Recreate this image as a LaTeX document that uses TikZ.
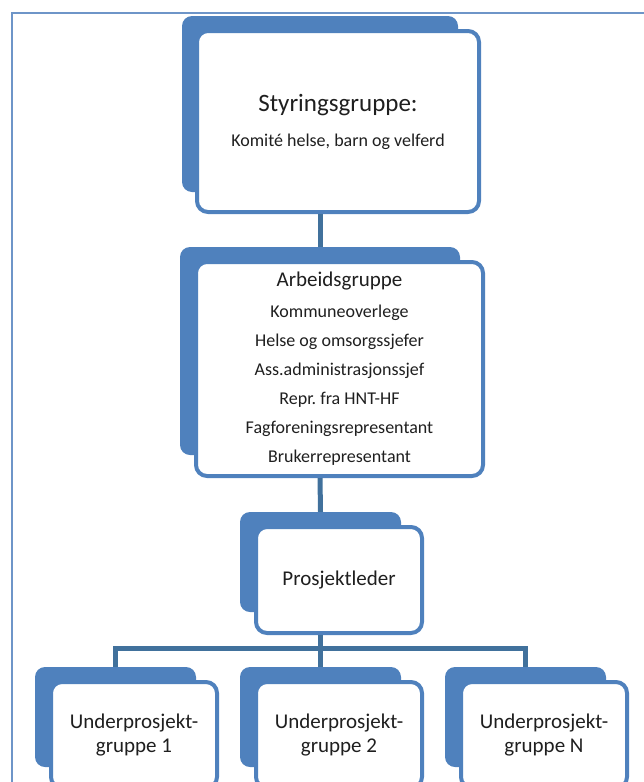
\documentclass[tikz,border=0pt]{standalone}
\usepackage{fontspec}
\setmainfont{Carlito}
\usetikzlibrary{positioning}
\definecolor{boxblue}{HTML}{4F81BD}
\definecolor{linkblue}{HTML}{41719C}
\definecolor{frameblue}{HTML}{6E95C8}
\frenchspacing

\begin{document}
\begin{tikzpicture}[x=1pt,y=-1pt,
    back box/.style={rectangle,rounded corners=10pt,fill=boxblue,inner sep=0pt},
    front box/.style={rectangle,rounded corners=11pt,draw=boxblue,line width=4pt,fill=white,
      align=center,text=black!88,inner sep=0pt},
    link line/.style={draw=linkblue,line width=5pt},
    member font/.style={font=\fontsize{18}{29}\selectfont},
    group font/.style={font=\fontsize{21}{24}\selectfont}]
  \useasboundingbox (0,0) rectangle (643,782);
  % outer frame, runs off the page at right and bottom
  \draw[frameblue,line width=2pt] (12,13) rectangle (700,850);

  % styringsgruppe
  \node[back box,minimum width=276pt,minimum height=176pt] (sgb) at (320,104) {};
  \node[front box,member font,minimum width=282pt,minimum height=181pt] (sg) at (338,121.5)
    {{\fontsize{25}{35}\selectfont Styringsgruppe:}\\[6pt]Komité helse, barn og velferd};

  % arbeidsgruppe
  \node[back box,minimum width=280pt,minimum height=208pt] (agb) at (320,351) {};
  \node[front box,member font,minimum width=287pt,minimum height=214pt] (ag) at (339.5,369)
    {{\fontsize{21}{29}\selectfont Arbeidsgruppe}\\[2pt] Kommuneoverlege\\ Helse og omsorgssjefer\\
     Ass.administrasjonssjef\\ Repr. fra HNT-HF\\
     Fagforeningsrepresentant\\ Brukerrepresentant};

  % prosjektleder
  \node[back box,minimum width=161pt,minimum height=100pt] (plb) at (320.5,562) {};
  \node[front box,group font,minimum width=166pt,minimum height=106pt] (pl) at (339,580)
    {Prosjektleder};

  % underprosjektgrupper
  \node[back box,minimum width=161pt,minimum height=100pt] (u1b) at (115.5,717) {};
  \node[front box,group font,minimum width=166pt,minimum height=106pt] (u1) at (134,735)
    {Underprosjekt-\\gruppe 1};
  \node[back box,minimum width=161pt,minimum height=100pt] (u2b) at (320.5,717) {};
  \node[front box,group font,minimum width=166pt,minimum height=106pt] (u2) at (339,735)
    {Underprosjekt-\\gruppe 2};
  \node[back box,minimum width=161pt,minimum height=100pt] (u3b) at (525.5,717) {};
  \node[front box,group font,minimum width=166pt,minimum height=106pt] (u3) at (544,735)
    {Underprosjekt-\\gruppe N};

  % connectors
  \path[link line] (sgb.south |- sg.south) -- (agb.north);
  \path[link line] (agb.south |- ag.south) -- (plb.north);
  \coordinate (bar) at (320.5,648);
  \path[link line] (plb.south |- pl.south) -- (bar);
  \path[link line] (bar) -| (u1b.north);
  \path[link line] (bar) -- (u2b.north);
  \path[link line] (bar) -| (u3b.north);
\end{tikzpicture}
\end{document}
